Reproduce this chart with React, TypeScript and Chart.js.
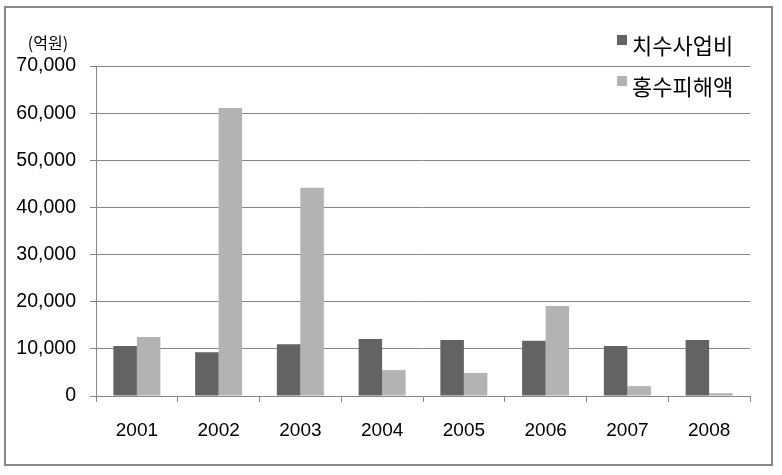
import React, { useEffect, useRef } from "react";
import { Chart, registerables } from "chart.js";

Chart.register(...registerables);

const years = ["2001", "2002", "2003", "2004", "2005", "2006", "2007", "2008"];
const seriesNames = ["치수사업비", "홍수피해액"];
const projectCost = [10600, 9300, 11000, 12100, 11900, 11700, 10600, 11900];
const floodDamage = [12500, 61100, 44200, 5500, 4900, 19100, 2100, 600];
const unitLabel = "(억원)";
const yMax = 70000;
const yStep = 10000;

const DARK = "#636363";
const LIGHT = "#b3b3b3";
const LINE = "#878787";
const FONT = "'Liberation Sans', 'Noto Sans CJK KR', sans-serif";
const KFONT = "'Noto Sans CJK KR', 'Liberation Sans', sans-serif";

const decorPlugin = {
  id: "decor",
  beforeDraw(chart: any) {
    const ctx = chart.ctx;
    ctx.save();
    ctx.fillStyle = "#ffffff";
    ctx.fillRect(0, 0, chart.width, chart.height);
    ctx.restore();
  },
  afterDraw(chart: any) {
    const ctx = chart.ctx;
    ctx.save();
    // outer border
    ctx.strokeStyle = LINE;
    ctx.lineWidth = 2;
    ctx.strokeRect(5, 7, 767, 458);
    // unit label
    ctx.fillStyle = "#000";
    ctx.font = `16px ${KFONT}`;
    ctx.textAlign = "center";
    ctx.textBaseline = "middle";
    ctx.fillText(unitLabel, 48, 43);
    // legend
    const colors = [DARK, LIGHT];
    ctx.font = `22px ${KFONT}`;
    ctx.textAlign = "left";
    seriesNames.forEach((name, i) => {
      const cy = 46 + i * 41;
      ctx.fillStyle = colors[i];
      ctx.fillRect(617, cy - 11, 10, 10);
      ctx.fillStyle = "#000";
      ctx.fillText(name, 632, cy);
    });
    ctx.restore();
  },
};

export default function App() {
  const ref = useRef<HTMLCanvasElement>(null);
  useEffect(() => {
    document.body.style.margin = "0";
    const chart = new Chart(ref.current!, {
      type: "bar",
      data: {
        labels: years,
        datasets: [
          { label: seriesNames[0], data: projectCost, backgroundColor: DARK },
          { label: seriesNames[1], data: floodDamage, backgroundColor: LIGHT },
        ],
      },
      options: {
        animation: false,
        responsive: false,
        maintainAspectRatio: false,
        layout: { padding: { top: 66, right: 32, left: 0, bottom: 29 } },
        plugins: {
          legend: { display: false },
          tooltip: { enabled: false },
        },
        datasets: {
          bar: { categoryPercentage: 0.575, barPercentage: 1 },
        },
        scales: {
          x: {
            afterFit: (s: any) => {
              s.height = 50;
            },
            grid: {
              display: true,
              drawOnChartArea: false,
              drawTicks: true,
              tickLength: 6,
              color: LINE,
              offset: true,
            },
            border: { display: true, color: LINE, width: 1 },
            ticks: {
              color: "#000",
              font: { family: FONT, size: 19 },
              padding: 17,
            },
          },
          y: {
            min: 0,
            max: yMax,
            afterFit: (s: any) => {
              s.width = 96;
            },
            grid: {
              color: LINE,
              lineWidth: 1,
              drawTicks: true,
              tickLength: 6,
            },
            border: { display: true, color: LINE, width: 1 },
            ticks: {
              stepSize: yStep,
              color: "#000",
              font: { family: FONT, size: 19.5 },
              padding: 14,
              callback: (v: any) => Number(v).toLocaleString("en-US"),
            },
          },
        },
      },
      plugins: [decorPlugin],
    });
    return () => chart.destroy();
  }, []);
  return (
    <div style={{ width: 782, height: 475 }}>
      <canvas ref={ref} width={782} height={475} style={{ display: "block" }} />
    </div>
  );
}
